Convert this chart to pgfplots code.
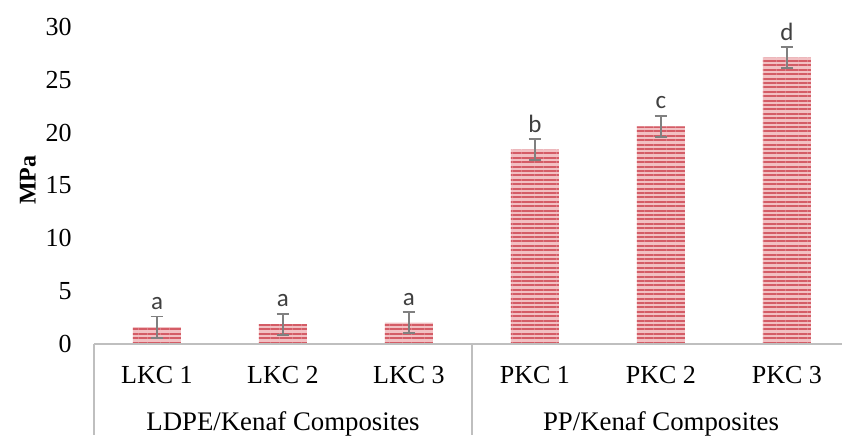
\documentclass[border=0pt]{standalone}
\usepackage{pgfplots}
\pgfplotsset{compat=1.18}
\usepackage{fontspec}
\setmainfont{Liberation Serif}
\newfontfamily\calibri{Carlito}
\usetikzlibrary{patterns.meta}
\definecolor{barred}{RGB}{212,92,102}
\definecolor{barpink}{RGB}{242,192,195}
\definecolor{errgray}{RGB}{128,128,128}
\definecolor{linegray}{RGB}{191,191,191}
\definecolor{lettergray}{RGB}{64,64,64}
\begin{document}
\begin{tikzpicture}
\begin{axis}[
 scale only axis, width=374pt, height=158.5pt,
 xmin=-0.5, xmax=5.437, ymin=0, ymax=30,
 axis line style={draw=none},
 ytick={0,5,...,30},
 xtick={0,...,5},
 xticklabels={LKC 1,LKC 2,LKC 3,PKC 1,PKC 2,PKC 3},
 major tick length=0pt,
 tick label style={font=\fontsize{13}{15}\selectfont},
 /pgf/number format/assume math mode=true,
 yticklabel style={anchor=east, inner sep=0pt, xshift=-11pt},
 xticklabel style={anchor=base, inner sep=0pt, yshift=-19.7pt},
 clip=false,
]
\addplot[ybar, bar width=24pt, draw=none, fill=barpink,
  postaction={pattern={Lines[angle=0,distance=2.2pt,line width=1.0pt]}, pattern color=barred},
  error bars/.cd, y dir=both, y explicit,
  error bar style={draw=errgray, line width=0.85pt},
  error mark options={rotate=90, mark size=3.2pt, line width=0.85pt, draw=errgray}]
 coordinates {
 (0,1.6) +- (0,1.0)
 (1,1.87) +- (0,1.0)
 (2,2.02) +- (0,1.0)
 (3,18.4) +- (0,1.0)
 (4,20.6) +- (0,1.0)
 (5,27.1) +- (0,1.0)
 };
\draw[linegray, line width=1.1pt] (axis cs:-0.5,0) -- (axis cs:5.437,0);
\begin{scope}[every node/.style={anchor=base, yshift=3.5pt, text=lettergray, font=\calibri\fontsize{12.5}{14}\selectfont, inner sep=0pt}]
\node at (axis cs:0,2.6) {a};
\node at (axis cs:1,2.87) {a};
\node at (axis cs:2,3.02) {a};
\node at (axis cs:3,19.4) {b};
\node at (axis cs:4,21.6) {c};
\node at (axis cs:5,28.1) {d};
\end{scope}
\end{axis}
\draw[linegray, line width=1.1pt] (0,0) -- (0,-45.5pt);
\draw[linegray, line width=1.1pt] (189pt,0) -- (189pt,-45.5pt);
\node[anchor=base, inner sep=0pt, font=\fontsize{13.4}{15}\selectfont] at (94.5pt,-43pt) {LDPE/Kenaf Composites};
\node[anchor=base, inner sep=0pt, font=\fontsize{13.4}{15}\selectfont] at (283.5pt,-43pt) {PP/Kenaf Composites};
\node[rotate=90, inner sep=0pt, font=\bfseries\fontsize{12}{14}\selectfont] at (-33pt,82pt) {MPa};
\pgfresetboundingbox
\path[use as bounding box] (-47pt,-45.5pt) rectangle (374pt,172pt);
\end{tikzpicture}
\end{document}
